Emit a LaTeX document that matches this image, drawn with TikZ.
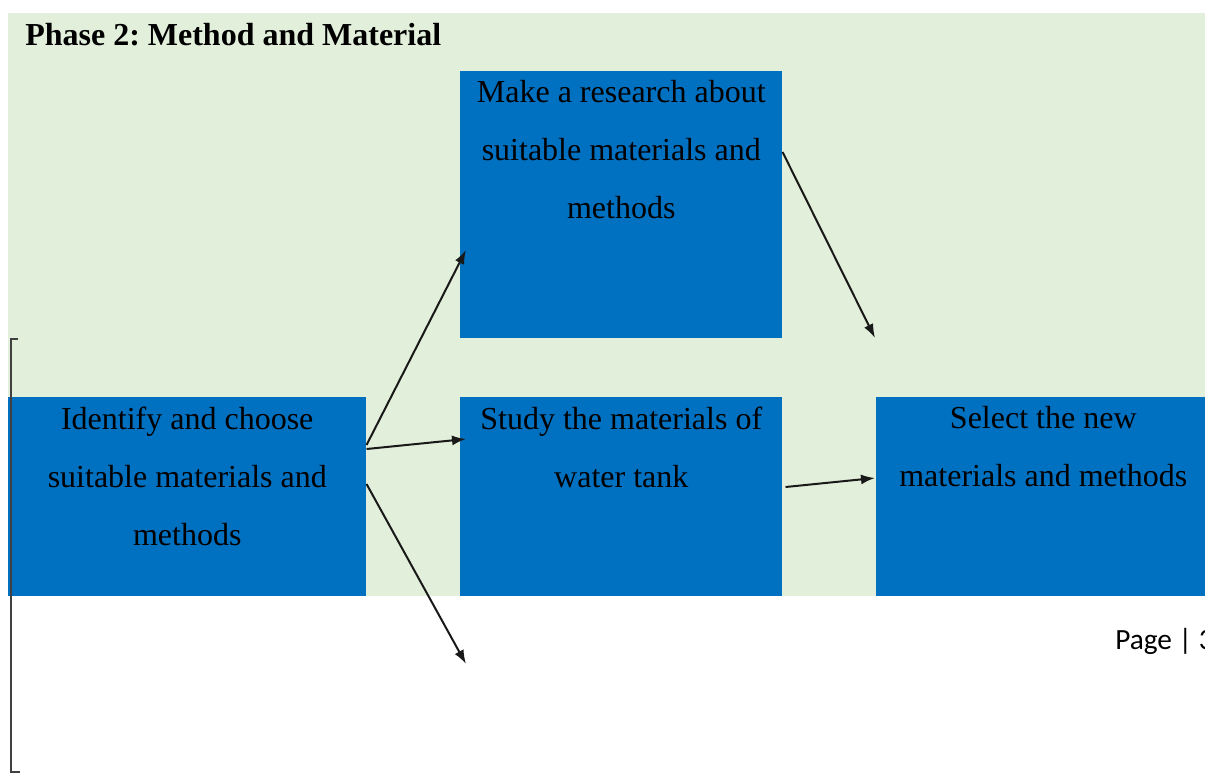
\documentclass[tikz,border=0pt]{standalone}
\usepackage{fontspec}
\setmainfont{Liberation Serif}
\newfontfamily\footerfont{Carlito}
\usetikzlibrary{calc,arrows.meta}
\definecolor{bggreen}{HTML}{E2EFDA}
\definecolor{boxblue}{HTML}{0070C0}
\definecolor{rulegray}{HTML}{404040}
\frenchspacing
\begin{document}
\begin{tikzpicture}[x=0.75pt,y=-0.75pt,
  box/.style={fill=boxblue, draw=none, inner sep=0pt, anchor=north west},
  boxtext/.style={anchor=north, inner sep=0pt, align=center,
    font=\fontsize{24}{43.5}\selectfont},
  link/.style={draw=black!90, line width=1.5pt, -{Latex[length=10.5pt,width=7.5pt]}}]
\useasboundingbox (0,0) rectangle (1205,775);
\clip (0,0) rectangle (1205,775);

% shaded section background
\fill[bggreen] (8,13) rectangle (1210,596);

% section heading
\node[anchor=base west, inner sep=0pt, font=\fontsize{24}{29}\selectfont\bfseries]
  (title) at (25,45) {Phase 2: Method and Material};

% process boxes
\node[box, minimum width=0.75pt*358, minimum height=0.75pt*199] (A) at (8,397) {};
\node[box, minimum width=0.75pt*322, minimum height=0.75pt*267] (B) at (460,71) {};
\node[box, minimum width=0.75pt*322, minimum height=0.75pt*199] (C) at (460,397) {};
\node[box, minimum width=0.75pt*334, minimum height=0.75pt*199] (D) at (876,397) {};

% box labels
\node[boxtext] (At) at ($(A.north)+(0,9.5)$) {Identify and choose\\suitable materials and\\methods};
\node[boxtext] (Bt) at ($(B.north)+(0,9.5)$) {Make a research about\\suitable materials and\\methods};
\node[boxtext] (Ct) at ($(C.north)+(0,9.5)$) {Study the materials of\\water tank};
\node[boxtext] (Dt) at ($(D.north)+(0,9.5)$) {Select the new\\materials and methods};

% margin bracket
\draw[rulegray, line width=1.6pt] (18,339) -- (11,339) -- (11,772) -- (20,772);

% free arrow ends
\coordinate (lowend) at (466,664);
\coordinate (rightend) at (875,338);

% connectors
\draw[link] ($(A.north east)+(0,48)$) -- ($(B.north west)+(6,179)$);
\draw[link] ($(A.north east)+(0,52)$) -- ($(C.north west)+(6,42)$);
\draw[link] ($(A.north east)+(0,87)$) -- (lowend);
\draw[link] ($(B.north east)+(0,81)$) -- (rightend);
\draw[link] ($(C.north east)+(3,90)$) -- ($(D.north west)+(-1,81)$);

% page footer
\node[anchor=base west, inner sep=0pt, font=\footerfont\fontsize{22}{26}\selectfont]
  (page) at (1115,649) {Page | 3};
\end{tikzpicture}
\end{document}
